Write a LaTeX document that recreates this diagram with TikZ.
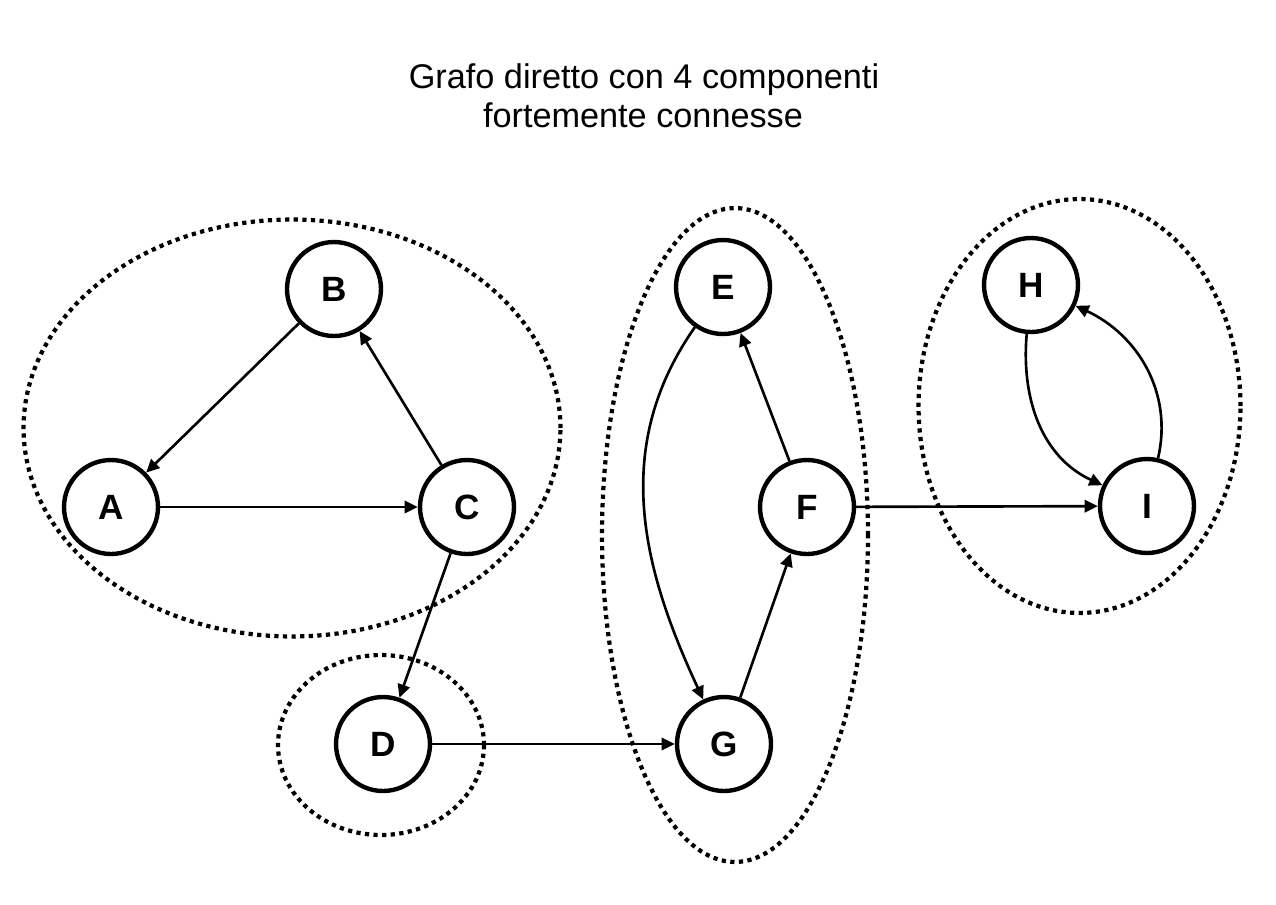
\documentclass[tikz,border=0pt]{standalone}
\usepackage{fontspec}
\setmainfont{Liberation Sans}
\usetikzlibrary{arrows.meta,shapes.geometric}
\begin{document}
\begin{tikzpicture}[x=0.02cm,y=-0.02cm,
  vert/.style={circle,draw,fill=white,line width=2.5pt,minimum size=1.88cm,inner sep=0pt,font=\fontsize{20}{23}\selectfont\bfseries},
  scc/.style={ellipse,draw,line width=2.4pt,dash pattern=on 2.4pt off 2.5pt,inner sep=0pt},
  arr/.style={line width=1.5pt,-{Triangle[length=7.5pt,width=7pt]}},
  ttl/.style={font=\fontsize{19.5}{23}\selectfont,anchor=base,inner sep=0pt}]
\useasboundingbox (0,0) rectangle (1276,904);
% title
\node[ttl] (t1) at (644,88) {Grafo diretto con 4 componenti};
\node[ttl] (t2) at (643,127) {fortemente connesse};
% components
\node[scc,minimum width=10.74cm,minimum height=8.34cm] (s1) at (292,428) {};
\node[scc,minimum width=4.12cm,minimum height=3.6cm] (s2) at (381,745) {};
\node[scc,minimum width=5.32cm,minimum height=13.08cm] (s3) at (735,535) {};
\node[scc,minimum width=6.44cm,minimum height=8.28cm] (s4) at (1079.5,406) {};
% vertices
\node[vert] (A) at (111,507) {A};
\node[vert] (B) at (334,289) {B};
\node[vert] (C) at (467,507) {C};
\node[vert] (D) at (383,744) {D};
\node[vert] (E) at (723,287) {E};
\node[vert] (F) at (807,507) {F};
\node[vert] (G) at (724,744) {G};
\node[vert] (H) at (1031,285) {H};
\node[vert] (I) at (1147,506) {I};
% edges
\draw[arr] (B) -- (A);
\draw[arr] (A) -- (C);
\draw[arr] (C) -- (B);
\draw[arr] (C) -- (D);
\draw[arr] (D) -- (G);
\draw[arr] (G) -- (F);
\draw[arr] (F) -- (E);
\draw[arr] (E) to[out=235,in=115] (G);
\draw[arr] (F) -- (I);
\draw[arr] (H) to[out=-95,in=155] (I);
\draw[arr] (I) to[out=77,in=-25] (H);
\end{tikzpicture}
\end{document}
